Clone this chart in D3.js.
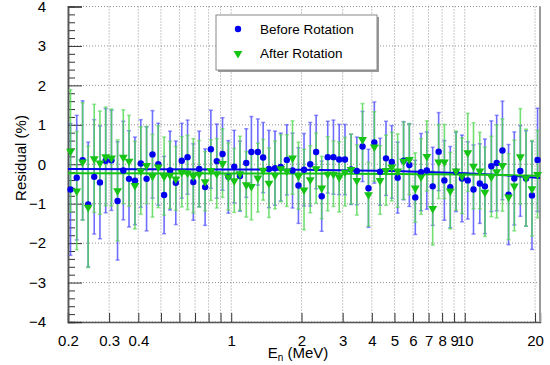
<!DOCTYPE html>
<html>
<head>
<meta charset="utf-8">
<script src="https://cdn.jsdelivr.net/npm/d3@7"></script>
<style>
  body { margin: 0; background: #fff; }
  svg { font-family: "Liberation Sans", Arial, sans-serif; }
</style>
</head>
<body>
<div id="graph"></div>
<script>
// neutron energy bins (MeV)
const energies = [0.205,0.218,0.231,0.244,0.259,0.274,0.290,0.307,0.326,0.345,
  0.365,0.387,0.410,0.434,0.460,0.487,0.516,0.547,0.579,0.614,
  0.650,0.688,0.729,0.773,0.818,0.867,0.918,0.972,1.03,1.09,
  1.16,1.22,1.30,1.37,1.45,1.54,1.63,1.73,1.83,1.94,
  2.05,2.18,2.31,2.44,2.59,2.74,2.90,3.07,3.26,3.45,
  3.65,3.87,4.10,4.34,4.60,4.87,5.16,5.47,5.79,6.14,
  6.50,6.88,7.29,7.73,8.18,8.67,9.18,9.73,10.3,10.9,
  11.6,12.2,13.0,13.7,14.5,15.4,16.3,17.3,18.3,19.4,20.5];

// residuals before rotation (%)
const beforeVals = [-0.64,-0.34,0.10,-1.02,-0.32,-0.46,0.09,0.10,-0.93,-0.16,
  -0.37,-0.42,0.02,-0.37,0.25,0.00,-0.78,-0.16,-0.47,0.09,
  0.18,-0.45,-0.12,-0.58,0.38,0.08,0.26,-0.32,-0.06,-0.30,
  0.03,0.31,0.31,0.17,-0.12,-0.10,-0.07,0.11,-0.16,-0.54,
  -0.14,0.00,0.31,-0.81,0.18,0.18,0.12,0.12,-0.13,-0.17,
  0.45,-0.61,0.55,-0.19,0.15,0.06,-0.34,0.09,-0.02,-0.84,
  -0.20,-0.16,-0.56,0.32,-0.41,-0.58,-0.19,-0.36,-0.41,-0.64,
  -0.49,-0.56,-0.05,0.03,0.35,-0.77,-0.36,-0.17,-0.36,-0.79,0.11];
const beforeErrs = [1.67,1.58,1.51,1.58,1.45,1.43,1.32,1.27,1.50,1.25,
  1.22,1.11,1.11,1.32,1.11,1.04,0.98,1.00,1.06,0.95,
  0.94,0.97,0.96,0.97,0.99,0.94,0.92,0.92,0.92,0.89,
  0.87,0.90,0.84,0.89,0.98,0.94,0.86,0.89,0.95,0.96,
  0.92,1.06,0.93,0.89,0.91,0.94,0.89,0.89,0.89,0.86,
  0.89,0.99,1.03,0.85,0.94,0.92,0.90,0.99,1.05,0.94,
  0.98,0.98,0.99,0.99,1.01,1.03,1.01,1.10,0.98,1.13,
  1.01,1.20,1.15,1.21,1.25,1.27,1.18,1.15,1.21,1.37,1.31];

// residuals after rotation (%)
const afterVals = [0.34,-0.67,0.07,-1.08,0.15,0.04,0.20,0.17,-0.66,0.19,
  0.09,-0.53,-0.16,-0.02,-0.29,-0.06,-0.30,-0.27,-0.36,-0.19,
  -0.21,-0.29,-0.24,-0.43,-0.15,-0.23,0.03,-0.31,-0.41,-0.23,
  -0.51,-0.55,-0.34,-0.14,-0.47,-0.27,-0.10,-0.16,0.17,-0.29,
  -0.64,-0.38,-0.10,-0.59,-0.24,-0.24,-0.32,-0.19,-0.12,-0.40,
  0.64,-0.76,0.45,-0.40,-0.15,-0.06,-0.16,0.09,0.13,-0.59,
  -0.31,0.21,-1.11,0.07,0.07,-0.67,-0.16,-0.29,0.30,-0.04,
  -0.16,-0.70,-0.31,-0.18,-0.02,-0.82,-0.54,0.20,-0.34,-0.61,-0.25];
const afterErrs = [1.55,1.50,1.49,1.54,1.37,1.31,1.25,1.23,1.28,1.19,
  1.15,1.11,1.11,0.98,1.05,1.04,0.99,0.85,0.81,0.89,
  0.94,0.94,0.84,0.75,0.77,0.88,0.87,0.85,0.81,0.94,
  0.83,0.86,0.87,0.77,0.88,0.86,0.85,0.91,0.93,0.85,
  1.02,0.85,0.89,0.79,0.94,0.83,0.89,0.87,0.89,0.89,
  0.90,0.81,0.88,0.87,0.89,0.87,0.93,0.98,0.90,0.88,
  0.96,0.89,0.94,0.94,0.94,0.97,1.00,0.96,0.99,1.09,
  0.97,1.13,1.02,1.18,1.17,1.09,1.15,1.21,1.23,1.21,1.11];

// straight-line fits (drawn through points)
const beforeFit = [[0.2,-0.12],[1,-0.13],[2,-0.14],[5,-0.17],[10,-0.23],[15,-0.28],[21,-0.35]];
const afterFit = [[0.2,-0.23],[2,-0.235],[5,-0.245],[10,-0.26],[15,-0.275],[21,-0.29]];

const xTicks = [0.2,0.3,0.4,0.5,0.6,0.7,0.8,0.9,1,2,3,4,5,6,7,8,9,10,20];
const xLabels = [0.2,0.3,0.4,1,2,3,4,5,6,7,8,9,10,20];
const yTicks = [-4,-3,-2,-1,0,1,2,3,4];

const W = 550, H = 365;
const blue = '#0000ee', green = '#16c416';
const svg = d3.select('#graph').append('svg').attr('width', W).attr('height', H);

const x = d3.scaleLog().domain([0.2, 21]).range([68, 540]);
const y = d3.scaleLinear().domain([-4, 4]).range([322, 6.5]);

// grid
svg.append('g').selectAll('line').data(xTicks).join('line')
  .attr('x1', d => x(d)).attr('x2', d => x(d)).attr('y1', y(4)).attr('y2', y(-4))
  .attr('stroke', '#777').attr('stroke-width', 0.8).attr('stroke-dasharray', '1,2');
svg.append('g').selectAll('line').data(yTicks).join('line')
  .attr('x1', x(0.2)).attr('x2', x(21)).attr('y1', d => y(d)).attr('y2', d => y(d))
  .attr('stroke', '#777').attr('stroke-width', 0.8).attr('stroke-dasharray', '1,2');

// axes
svg.append('g').attr('transform', `translate(0,${y(-4)})`)
  .call(d3.axisBottom(x).tickValues(xTicks).tickSize(-9).tickPadding(13)
    .tickFormat(d => xLabels.includes(d) ? d : ''));
const yMinor = d3.range(-40, 41, 2).map(v => v / 10).filter(v => Math.abs(v % 1) > 0.01);
svg.append('g').attr('transform', `translate(${x(0.2)},0)`)
  .call(d3.axisLeft(y).tickValues(yMinor).tickSize(-7).tickFormat(''));
svg.append('g').attr('transform', `translate(${x(0.2)},0)`)
  .call(d3.axisLeft(y).tickValues(yTicks).tickSize(-14).tickPadding(22)
    .tickFormat(d => d < 0 ? '\u2212' + Math.abs(d) : d));
svg.selectAll('.domain').attr('stroke', '#555').attr('stroke-width', 1.5);
svg.selectAll('.tick line').attr('stroke', '#333');
svg.selectAll('.tick text').attr('font-size', 15).attr('fill', '#000')
  .attr('font-family', '"Liberation Sans", Arial, sans-serif');
// right frame
svg.append('line').attr('x1', 540).attr('x2', 540).attr('y1', y(4)).attr('y2', y(-4))
  .attr('stroke', '#999').attr('stroke-width', 2);

// error bars
function drawSeries(vals, errs, color) {
  const g = svg.append('g');
  g.selectAll('line.bar').data(vals).join('line').attr('class', 'bar')
    .attr('x1', (d, i) => x(energies[i])).attr('x2', (d, i) => x(energies[i]))
    .attr('y1', (d, i) => y(d + errs[i])).attr('y2', (d, i) => y(d - errs[i]))
    .attr('stroke', color).attr('stroke-width', 1.6).attr('opacity', 0.8);
  [1, -1].forEach(s => {
    g.selectAll('line.cap' + s).data(vals).join('line')
      .attr('x1', (d, i) => x(energies[i]) - 2).attr('x2', (d, i) => x(energies[i]) + 2)
      .attr('y1', (d, i) => y(d + s * errs[i])).attr('y2', (d, i) => y(d + s * errs[i]))
      .attr('stroke', color).attr('stroke-width', 1.5).attr('opacity', 0.6);
  });
}
drawSeries(beforeVals, beforeErrs, '#4a4aff');
drawSeries(afterVals, afterErrs, '#4fd84f');

const line = d3.line().x(d => x(d[0])).y(d => y(d[1]));
svg.append('path').datum(beforeFit).attr('d', line).attr('fill', 'none')
  .attr('stroke', blue).attr('stroke-width', 2);
svg.append('path').datum(afterFit).attr('d', line).attr('fill', 'none')
  .attr('stroke', green).attr('stroke-width', 2);

const tri = d3.symbol().type(d3.symbolTriangle).size(34);
svg.append('g').selectAll('circle').data(beforeVals).join('circle')
  .attr('cx', (d, i) => x(energies[i])).attr('cy', d => y(d)).attr('r', 3.2).attr('fill', blue);
svg.append('g').selectAll('path').data(afterVals).join('path')
  .attr('d', tri).attr('fill', green)
  .attr('transform', (d, i) => `translate(${x(energies[i])},${y(d) + 0.5}) rotate(180)`);

// titles
svg.append('text').attr('transform', 'translate(26,158) rotate(-90)')
  .attr('text-anchor', 'middle').attr('font-size', 15).text('Residual (%)');
const xt = svg.append('text').attr('x', 298).attr('y', 358).attr('text-anchor', 'middle')
  .attr('font-size', 15);
xt.append('tspan').text('E');
xt.append('tspan').attr('font-size', 10).attr('dy', 3).text('n');
xt.append('tspan').attr('dy', -3).text(' (MeV)');

// legend
const lg = svg.append('g').attr('transform', 'translate(216,15)');
lg.append('rect').attr('x', 2).attr('y', 2).attr('width', 161).attr('height', 55).attr('fill', '#999');
lg.append('rect').attr('width', 161).attr('height', 55).attr('fill', '#fff')
  .attr('stroke', '#888').attr('stroke-width', 1);
lg.append('circle').attr('cx', 22).attr('cy', 14).attr('r', 3.2).attr('fill', blue);
lg.append('path').attr('d', tri).attr('fill', green).attr('transform', 'translate(22,38.5) rotate(180)');
lg.append('text').attr('x', 44).attr('y', 19).attr('font-size', 13.5).text('Before Rotation');
lg.append('text').attr('x', 44).attr('y', 43).attr('font-size', 13.5).text('After Rotation');
</script>
</body>
</html>
